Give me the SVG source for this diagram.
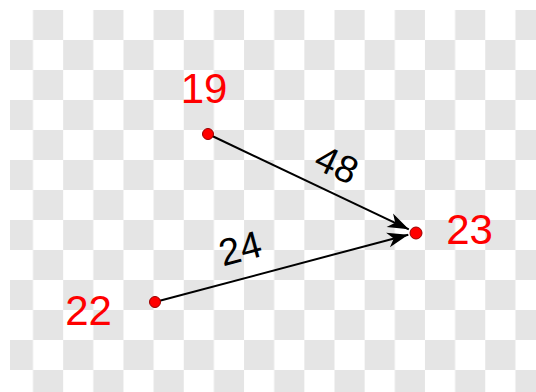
<svg xmlns="http://www.w3.org/2000/svg" width="536" height="392" viewBox="0 0 536 392">
<defs>
<pattern id="checker" x="2.85" y="10" width="60.3" height="60" patternUnits="userSpaceOnUse">
<rect x="0" y="0" width="60.3" height="60" fill="#ffffff"/>
<rect x="30.15" y="0" width="30.15" height="30" fill="#e5e5e5"/>
<rect x="0" y="30" width="30.15" height="30" fill="#e5e5e5"/>
</pattern>
<marker id="arrow" markerUnits="userSpaceOnUse" markerWidth="30" markerHeight="20" viewBox="-22 -10 30 20" refX="0" refY="0" orient="auto">
<path d="M-21,-7.5 L0,0 L-21,7.5 L-15,0 z" fill="#000"/>
</marker>
<style>
.lbl{font-family:"Liberation Sans",Arial,sans-serif;font-size:42px;fill:#ff0000}
.elbl{font-family:"Liberation Sans",Arial,sans-serif;font-size:38px;fill:#000;text-anchor:middle}
.edge{stroke:#000;stroke-width:2;fill:none;marker-end:url(#arrow)}
.dot{fill:#ff0000;stroke:#990000;stroke-width:1}
</style>
</defs>
<rect x="10" y="10" width="526" height="382" fill="url(#checker)"/>
<g id="connectors">
<line class="edge" x1="208" y1="134" x2="408.8" y2="229.3"/>
<line class="edge" x1="155" y1="302" x2="408.3" y2="234.7"/>
<text class="elbl" transform="translate(337,164) rotate(25.4)" y="13.5">48</text>
<text class="elbl" transform="translate(240,248) rotate(-14.8)" y="13.5">24</text>
</g>
<g id="node-19">
<circle class="dot" cx="208" cy="134" r="5.5"/>
<text class="lbl" x="204" y="103" text-anchor="middle">19</text>
</g>
<g id="node-22">
<circle class="dot" cx="155" cy="302" r="5.5"/>
<text class="lbl" x="88.5" y="325" text-anchor="middle">22</text>
</g>
<g id="node-23">
<circle class="dot" cx="416" cy="233" r="6"/>
<text class="lbl" x="469.5" y="244" text-anchor="middle">23</text>
</g>
</svg>
